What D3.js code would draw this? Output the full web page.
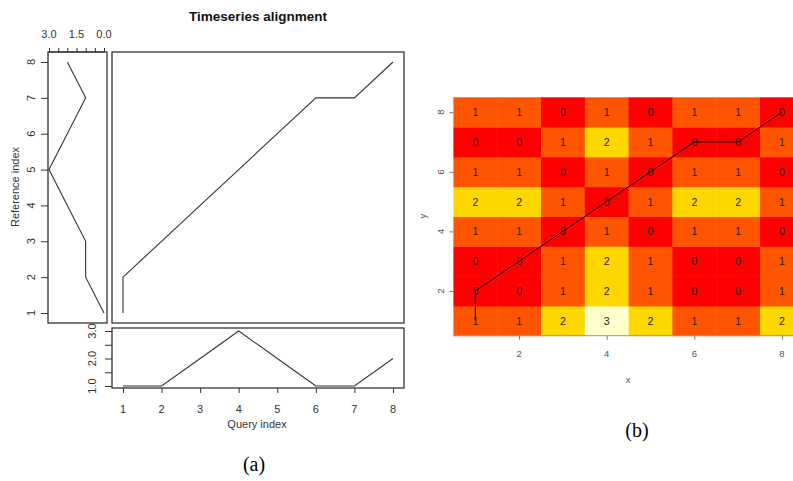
<!DOCTYPE html>
<html>
<head>
<meta charset="utf-8">
<script src="https://cdn.jsdelivr.net/npm/d3@7.9.0/dist/d3.min.js"></script>
<style>
  body { margin: 0; background: #fff; }
  svg { display: block; font-family: "Liberation Sans", Arial, sans-serif; }
</style>
</head>
<body>
<svg id="chart" width="793" height="481"></svg>
<script>
// series
const indices = [1, 2, 3, 4, 5, 6, 7, 8];
const queryValues = [1, 1, 2, 3, 2, 1, 1, 2];
const referenceValues = [0, 1, 1, 2, 3, 2, 1, 2];
// warping path (query index, reference index)
const pathQuery = [1, 1, 2, 3, 4, 5, 6, 7, 8];
const pathRef = [1, 2, 3, 4, 5, 6, 7, 7, 8];
// local cost matrix, rows = reference index 1..8, columns = query index 1..8
const costRows = [
  [1, 1, 2, 3, 2, 1, 1, 2],
  [0, 0, 1, 2, 1, 0, 0, 1],
  [0, 0, 1, 2, 1, 0, 0, 1],
  [1, 1, 0, 1, 0, 1, 1, 0],
  [2, 2, 1, 0, 1, 2, 2, 1],
  [1, 1, 0, 1, 0, 1, 1, 0],
  [0, 0, 1, 2, 1, 0, 0, 1],
  [1, 1, 0, 1, 0, 1, 1, 0]
];
const refTicks = [3.0, 2.5, 2.0, 1.5, 1.0, 0.5, 0.0];
const refTickLabels = [3.0, 1.5, 0.0];
const queryTicks = [1.0, 1.5, 2.0, 2.5, 3.0];
const queryTickLabels = [1.0, 2.0, 3.0];
const heatTicks = [2, 4, 6, 8];

const svg = d3.select("#chart");
const ink = "#333";

// ---------- (a) three-way alignment plot ----------
const mainX = d3.scaleLinear().domain([1, 8]).range([123, 393]);
const mainY = d3.scaleLinear().domain([1, 8]).range([313, 62]);
const refX = d3.scaleLinear().domain([0, 3]).range([104, 49]);
const botY = d3.scaleLinear().domain([1, 3]).range([386, 331]);

const line = d3.line();

function box(x0, y0, x1, y1) {
  svg.append("rect")
    .attr("x", x0).attr("y", y0)
    .attr("width", x1 - x0).attr("height", y1 - y0)
    .attr("fill", "none").attr("stroke", ink).attr("stroke-width", 1.3);
}
box(48, 52, 107, 323);
box(112, 52, 404, 323);
box(112, 328, 404, 388);

svg.append("text")
  .attr("x", 258).attr("y", 21)
  .attr("text-anchor", "middle")
  .style("font-weight", "bold").style("font-size", "13.5px").style("fill", "#111")
  .text("Timeseries alignment");

// warping path
svg.append("path")
  .attr("d", line(pathQuery.map((q, i) => [mainX(q), mainY(pathRef[i])])))
  .attr("fill", "none").attr("stroke", ink).attr("stroke-width", 1.1);

// reference series (vertical, reversed axis)
svg.append("path")
  .attr("d", line(indices.map((r, i) => [refX(referenceValues[i]), mainY(r)])))
  .attr("fill", "none").attr("stroke", ink).attr("stroke-width", 1.1);

// query series
svg.append("path")
  .attr("d", line(indices.map((q, i) => [mainX(q), botY(queryValues[i])])))
  .attr("fill", "none").attr("stroke", ink).attr("stroke-width", 1.1);

// top axis of reference panel
const refAxis = svg.append("g").attr("transform", "translate(0,52)")
  .call(d3.axisTop(refX).tickValues(refTicks).tickSize(4).tickFormat(""));
refAxis.select(".domain").attr("d", `M${refX(3)},0H${refX(0)}`);
svg.selectAll(".refLabel")
  .data(refTickLabels).enter().append("text")
  .attr("x", d => refX(d)).attr("y", 38)
  .attr("text-anchor", "middle")
  .style("font-size", "11px").style("fill", ink)
  .text(d => d.toFixed(1));

// left axis of main plot (reference index)
const leftAxis = svg.append("g").attr("transform", "translate(48,0)")
  .call(d3.axisLeft(mainY).tickValues(indices).tickSize(7).tickFormat(""));
leftAxis.select(".domain").remove();
svg.selectAll(".refIdx")
  .data(indices).enter().append("text")
  .attr("transform", d => `translate(35,${mainY(d)}) rotate(-90)`)
  .attr("text-anchor", "middle")
  .style("font-size", "11px").style("fill", ink)
  .text(d => d);

svg.append("text")
  .attr("transform", "translate(19,187) rotate(-90)")
  .attr("text-anchor", "middle")
  .style("font-size", "11px").style("fill", ink)
  .text("Reference index");

// left axis of query panel
const botLeft = svg.append("g").attr("transform", "translate(112,0)")
  .call(d3.axisLeft(botY).tickValues(queryTicks).tickSize(7).tickFormat(""));
botLeft.select(".domain").remove();
svg.selectAll(".qLabel")
  .data(queryTickLabels).enter().append("text")
  .attr("transform", d => `translate(96,${botY(d)}) rotate(-90)`)
  .attr("text-anchor", "middle")
  .style("font-size", "11px").style("fill", ink)
  .text(d => d.toFixed(1));

// bottom axis (query index)
const botAxis = svg.append("g").attr("transform", "translate(0,388)")
  .call(d3.axisBottom(mainX).tickValues(indices).tickSize(5).tickFormat(""));
botAxis.select(".domain").remove();
svg.selectAll(".qIdx")
  .data(indices).enter().append("text")
  .attr("x", d => mainX(d)).attr("y", 413)
  .attr("text-anchor", "middle")
  .style("font-size", "11px").style("fill", ink)
  .text(d => d);

svg.append("text")
  .attr("x", 257).attr("y", 428)
  .attr("text-anchor", "middle")
  .style("font-size", "11px").style("fill", ink)
  .text("Query index");

svg.selectAll("g.tick line").attr("stroke", ink);
svg.selectAll(".domain").attr("stroke", ink);

svg.append("text")
  .attr("x", 254).attr("y", 471)
  .attr("text-anchor", "middle")
  .style("font-family", "'Liberation Serif', 'Times New Roman', serif")
  .style("font-size", "20px").style("fill", "#000")
  .text("(a)");

// ---------- (b) cost matrix heatmap ----------
const hx = d3.scaleLinear().domain([0.5, 8.5]).range([453.4, 803.8]);
const hy = d3.scaleLinear().domain([0.5, 8.5]).range([335.7, 97.3]);
const heat = d3.scaleOrdinal().domain([0, 1, 2, 3])
  .range(["#FF0000", "#FF5500", "#FFD700", "#FFFFCC"]);

const cells = [];
costRows.forEach((row, ri) => row.forEach((v, qi) => {
  cells.push({ q: indices[qi], r: indices[ri], v: v });
}));

const hg = svg.append("g");
hg.selectAll("rect")
  .data(cells).enter().append("rect")
  .attr("x", d => hx(d.q - 0.5))
  .attr("y", d => hy(d.r + 0.5))
  .attr("width", d => hx(d.q + 0.5) - hx(d.q - 0.5) + 0.5)
  .attr("height", d => hy(d.r - 0.5) - hy(d.r + 0.5) + 0.5)
  .attr("fill", d => heat(d.v));

hg.append("path")
  .attr("d", line(pathQuery.map((q, i) => [hx(q), hy(pathRef[i])])))
  .attr("fill", "none").attr("stroke", "#000").attr("stroke-width", 1);

hg.selectAll("text")
  .data(cells).enter().append("text")
  .attr("x", d => hx(d.q)).attr("y", d => hy(d.r) + 4)
  .attr("text-anchor", "middle")
  .style("font-size", "10.5px").style("fill", "#222")
  .text(d => d.v);

const grey = "#777";
const hxAxis = svg.append("g").attr("transform", "translate(0,335.7)")
  .call(d3.axisBottom(hx).tickValues(heatTicks).tickSize(4).tickFormat(""));
hxAxis.select(".domain").attr("d", `M${hx(0.5)},0H${hx(8.5)}`).attr("stroke", "#999");
hxAxis.selectAll(".tick line").attr("stroke", grey);
svg.selectAll(".hxLabel")
  .data(heatTicks).enter().append("text")
  .attr("x", d => hx(d)).attr("y", 357)
  .attr("text-anchor", "middle")
  .style("font-size", "9.5px").style("fill", "#555")
  .text(d => d);

const hyAxis = svg.append("g").attr("transform", "translate(453.4,0)")
  .call(d3.axisLeft(hy).tickValues(heatTicks).tickSize(4).tickFormat(""));
hyAxis.select(".domain").remove();
hyAxis.selectAll(".tick line").attr("stroke", grey);
svg.selectAll(".hyLabel")
  .data(heatTicks).enter().append("text")
  .attr("transform", d => `translate(444,${hy(d)}) rotate(-90)`)
  .attr("text-anchor", "middle")
  .style("font-size", "9.5px").style("fill", "#555")
  .text(d => d);

svg.append("text")
  .attr("x", 628).attr("y", 383)
  .attr("text-anchor", "middle")
  .style("font-size", "9.5px").style("fill", "#555")
  .text("x");
svg.append("text")
  .attr("transform", "translate(426,216) rotate(-90)")
  .attr("text-anchor", "middle")
  .style("font-size", "9.5px").style("fill", "#555")
  .text("y");

svg.append("text")
  .attr("x", 637).attr("y", 437)
  .attr("text-anchor", "middle")
  .style("font-family", "'Liberation Serif', 'Times New Roman', serif")
  .style("font-size", "20px").style("fill", "#000")
  .text("(b)");
</script>
</body>
</html>
